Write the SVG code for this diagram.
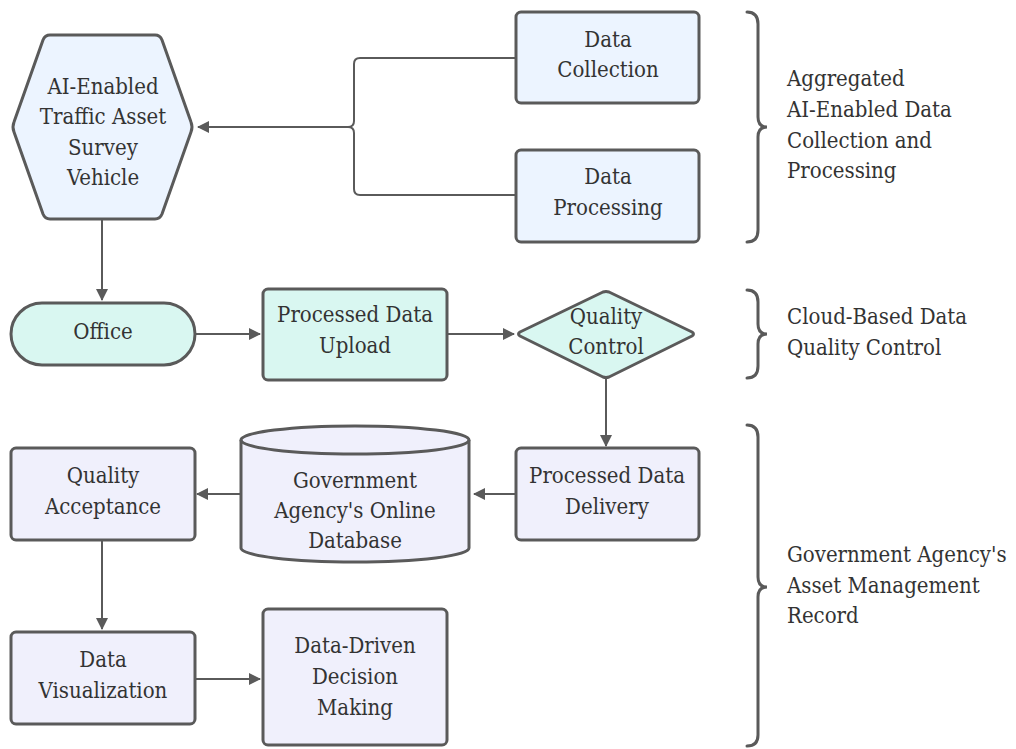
<svg xmlns="http://www.w3.org/2000/svg" width="1016" height="749" viewBox="0 0 1016 749">
<style>
.n{stroke:#5a5a5a;stroke-width:3;stroke-linejoin:round}
.b{fill:#ecf4ff}
.t{fill:#d9f7f1}
.l{fill:#f0f0fc}
.c{fill:none;stroke:#5a5a5a;stroke-width:2}
.br{fill:none;stroke:#5a5a5a;stroke-width:3;stroke-linecap:round}
text{font-family:'DejaVu Serif Condensed','DejaVu Serif',serif;font-stretch:condensed;font-size:22px;fill:#333}
.m{text-anchor:middle}
</style>
<defs>
<marker id="ah" markerWidth="12" markerHeight="12" refX="11" refY="6" orient="auto" markerUnits="userSpaceOnUse">
<path d="M0,0 L12,6 L0,12 Z" fill="#5a5a5a"/>
</marker>
</defs>
<rect width="1016" height="749" fill="#fff"/>
<g id="connectors">
<path class="c" d="M515,58 H360 Q354,58 354,64 V121 Q354,127 348,127 H198" marker-end="url(#ah)"/>
<path class="c" d="M515,195 H360 Q354,195 354,189 V133 Q354,127 348,127"/>
<path class="c" d="M102,219 V300" marker-end="url(#ah)"/>
<path class="c" d="M196,334 H260" marker-end="url(#ah)"/>
<path class="c" d="M448,334 H514" marker-end="url(#ah)"/>
<path class="c" d="M606,378 V446" marker-end="url(#ah)"/>
<path class="c" d="M515,494 H474" marker-end="url(#ah)"/>
<path class="c" d="M240,494 H197" marker-end="url(#ah)"/>
<path class="c" d="M102,540 V629" marker-end="url(#ah)"/>
<path class="c" d="M196,679 H260" marker-end="url(#ah)"/>
</g>
<g id="vehicle">
<path class="n b" d="M50,35 H155 Q160,35 162,40 L191,122 Q193,127 191,132 L162,214 Q160,219 155,219 H50 Q45,219 43,214 L14,132 Q12,127 14,122 L43,40 Q45,35 50,35 Z"/>
<text class="m" x="103" y="94">AI-Enabled</text>
<text class="m" x="103" y="124">Traffic Asset</text>
<text class="m" x="103" y="155">Survey</text>
<text class="m" x="103" y="185">Vehicle</text>
</g>
<g id="data-collection">
<rect class="n b" x="516" y="12" width="183" height="91" rx="5"/>
<text class="m" x="608" y="47">Data</text>
<text class="m" x="608" y="77">Collection</text>
</g>
<g id="data-processing">
<rect class="n b" x="516" y="150" width="183" height="92" rx="5"/>
<text class="m" x="608" y="184">Data</text>
<text class="m" x="608" y="215">Processing</text>
</g>
<g id="office">
<rect class="n t" x="11" y="303" width="184" height="62" rx="31"/>
<text class="m" x="103" y="339">Office</text>
</g>
<g id="upload">
<rect class="n t" x="263" y="289" width="184" height="91" rx="5"/>
<text class="m" x="355" y="322">Processed Data</text>
<text class="m" x="355" y="353">Upload</text>
</g>
<g id="quality-control">
<path class="n t" d="M520,332 L603,292 Q606,291 609,292 L692,332 Q695,334 692,336 L609,377 Q606,378 603,377 L520,336 Q517,334 520,332 Z"/>
<text class="m" x="606" y="324">Quality</text>
<text class="m" x="606" y="354">Control</text>
</g>
<g id="delivery">
<rect class="n l" x="516" y="448" width="183" height="92" rx="5"/>
<text class="m" x="607" y="483">Processed Data</text>
<text class="m" x="607" y="514">Delivery</text>
</g>
<g id="database">
<path class="n l" d="M241,440 A114,14 0 0 1 469,440 V548 A114,14 0 0 1 241,548 Z"/>
<path class="n" fill="none" d="M241,440 A114,14 0 0 0 469,440"/>
<text class="m" x="355" y="488">Government</text>
<text class="m" x="355" y="518">Agency's Online</text>
<text class="m" x="355" y="548">Database</text>
</g>
<g id="acceptance">
<rect class="n l" x="11" y="448" width="184" height="92" rx="5"/>
<text class="m" x="103" y="483">Quality</text>
<text class="m" x="103" y="514">Acceptance</text>
</g>
<g id="visualization">
<rect class="n l" x="11" y="632" width="184" height="92" rx="5"/>
<text class="m" x="103" y="667">Data</text>
<text class="m" x="103" y="698">Visualization</text>
</g>
<g id="decision">
<rect class="n l" x="263" y="609" width="184" height="136" rx="5"/>
<text class="m" x="355" y="653">Data-Driven</text>
<text class="m" x="355" y="684">Decision</text>
<text class="m" x="355" y="715">Making</text>
</g>
<g id="brace-1">
<path class="br" d="M747,12 Q758,12 758,24 V117 Q758,127 767,127 Q758,127 758,137 V230 Q758,242 747,242"/>
<text x="787" y="86">Aggregated</text>
<text x="787" y="117">AI-Enabled Data</text>
<text x="787" y="148">Collection and</text>
<text x="787" y="178">Processing</text>
</g>
<g id="brace-2">
<path class="br" d="M747,290 Q758,290 758,302 V324 Q758,334 767,334 Q758,334 758,344 V366 Q758,378 747,378"/>
<text x="787" y="324">Cloud-Based Data</text>
<text x="787" y="355">Quality Control</text>
</g>
<g id="brace-3">
<path class="br" d="M747,425 Q758,425 758,437 V577 Q758,587 767,587 Q758,587 758,597 V735 Q758,746 747,746"/>
<text x="787" y="562">Government Agency's</text>
<text x="787" y="593">Asset Management</text>
<text x="787" y="623">Record</text>
</g>
</svg>
